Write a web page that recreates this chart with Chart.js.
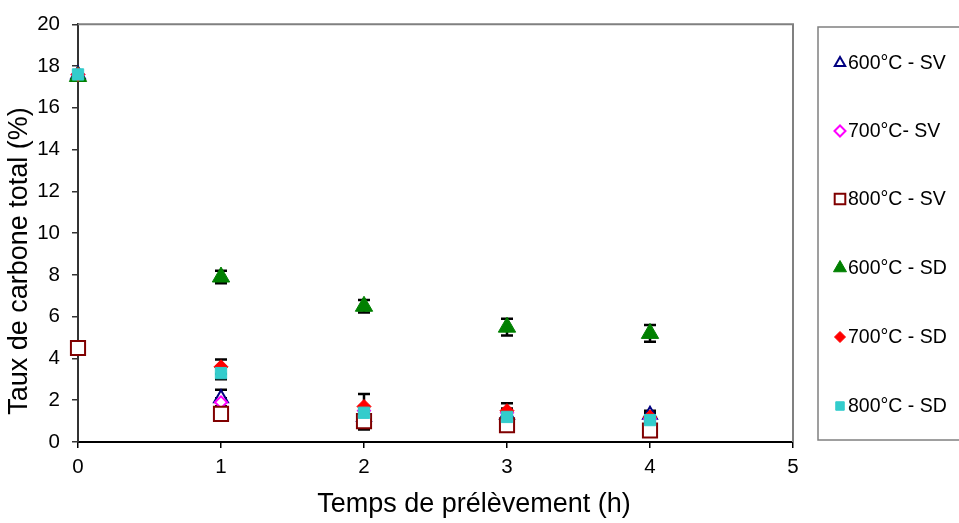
<!DOCTYPE html>
<html>
<head>
<meta charset="utf-8">
<script src="https://cdn.jsdelivr.net/npm/chart.js@4.4.1/dist/chart.umd.min.js"></script>
<style>
  html, body { margin: 0; padding: 0; background: #ffffff; }
  #wrap { width: 959px; height: 523px; position: relative; }
</style>
</head>
<body>
<div id="wrap"><canvas id="c" width="959" height="523"></canvas></div>
<script>
// ---- Data ----
const hours = [0, 1, 2, 3, 4];
const seriesNames = ["600°C - SV", "700°C- SV", "800°C - SV", "600°C - SD", "700°C - SD", "800°C - SD"];
const sv600 = [17.6, 2.1, 1.2, 1.3, 1.3];
const sv700 = [17.6, 1.9, 1.5, 1.4, 1.1];
const sv800 = [4.5, 1.35, 1.0, 0.8, 0.55];
const sd600 = [17.5, 7.9, 6.5, 5.5, 5.2];
const sd700 = [17.6, 3.6, 1.7, 1.5, 1.2];
const sd800 = [17.6, 3.3, 1.4, 1.2, 1.05];
// error bar half-widths
const err600sv = [0, 0.4, 0.2, 0.2, 0.2];
const err700sv = [0, 0.2, 0.2, 0.2, 0.1];
const err800sv = [0, 0.2, 0.4, 0.2, 0.1];
const err600sd = [0, 0.3, 0.3, 0.4, 0.4];
const err700sd = [0, 0.35, 0.6, 0.35, 0.2];
const err800sd = [0, 0.3, 0.2, 0.2, 0.1];
const xTicks = [0, 1, 2, 3, 4, 5];
const yTicks = [0, 2, 4, 6, 8, 10, 12, 14, 16, 18, 20];
const xTitle = 'Temps de prélèvement (h)';
const yTitle = 'Taux de carbone total (%)';

const values = [sv600, sv700, sv800, sd600, sd700, sd800];
const errors = [err600sv, err700sv, err800sv, err600sd, err700sd, err800sd];

const styles = [
  { pointStyle: 'triangle', radius: 8, border: '#000080', fill: '#ffffff', bw: 2 },
  { pointStyle: 'rectRot', radius: 6, border: '#FF00FF', fill: '#ffffff', bw: 2 },
  { pointStyle: 'rect', radius: 10, border: '#800000', fill: '#ffffff', bw: 2 },
  { pointStyle: 'triangle', radius: 10, border: '#008000', fill: '#008000', bw: 1 },
  { pointStyle: 'rectRot', radius: 7, border: '#FF0000', fill: '#FF0000', bw: 1 },
  { pointStyle: 'rect', radius: 8, border: '#33CCCC', fill: '#33CCCC', bw: 1 }
];

const FONT = "'Liberation Sans', Arial, sans-serif";

const datasets = values.map((vals, i) => ({
  label: seriesNames[i],
  data: hours.map((h, j) => ({ x: h, y: vals[j] })),
  showLine: false,
  clip: false,
  pointStyle: styles[i].pointStyle,
  pointRadius: styles[i].radius,
  pointHoverRadius: styles[i].radius,
  borderColor: styles[i].border,
  backgroundColor: styles[i].fill,
  pointBorderWidth: styles[i].bw,
  borderWidth: styles[i].bw,
  order: 10 - i,
  errs: errors[i]
}));

const framePlugin = {
  id: 'frameAndErrors',
  beforeDatasetsDraw(chart) {
    const { ctx, chartArea: a, scales } = chart;
    ctx.save();
    ctx.strokeStyle = '#808080';
    ctx.lineWidth = 2;
    ctx.beginPath();
    ctx.moveTo(a.left, a.top);
    ctx.lineTo(a.right, a.top);
    ctx.lineTo(a.right, a.bottom);
    ctx.stroke();
    ctx.strokeStyle = '#000000';
    ctx.lineWidth = 2.5;
    chart.data.datasets.forEach((ds) => {
      ds.data.forEach((p, j) => {
        const e = ds.errs[j];
        if (!e) return;
        const x = scales.x.getPixelForValue(p.x);
        const yt = scales.y.getPixelForValue(p.y + e);
        const yb = scales.y.getPixelForValue(p.y - e);
        ctx.beginPath();
        ctx.moveTo(x, yt); ctx.lineTo(x, yb);
        ctx.moveTo(x - 6, yt); ctx.lineTo(x + 6, yt);
        ctx.moveTo(x - 6, yb); ctx.lineTo(x + 6, yb);
        ctx.stroke();
      });
    });
    ctx.restore();
  },
  afterDraw(chart) {
    const { ctx } = chart;
    ctx.save();
    // axis titles
    ctx.fillStyle = '#000';
    ctx.font = '27px ' + FONT;
    ctx.textAlign = 'center';
    ctx.textBaseline = 'middle';
    ctx.fillText(xTitle, 474, 505);
    ctx.save();
    ctx.translate(20, 261);
    ctx.rotate(-Math.PI / 2);
    ctx.fillText(yTitle, 0, 0);
    ctx.restore();
    // legend box
    const boxL = 818, boxT = 27, boxB = 440;
    ctx.strokeStyle = '#808080';
    ctx.lineWidth = 1.5;
    ctx.strokeRect(boxL, boxT, 200, boxB - boxT);
    const rowY = [63, 131, 199, 268, 337, 406];
    ctx.font = '19.5px ' + FONT;
    ctx.textBaseline = 'middle';
    ctx.textAlign = 'left';
    chart.data.datasets.forEach((ds, i) => {
      const st = styles[i];
      ctx.strokeStyle = st.border;
      ctx.fillStyle = st.fill;
      ctx.lineWidth = st.bw;
      Chart.helpers.drawPoint(ctx, {
        pointStyle: st.pointStyle,
        radius: Math.max(5.5, st.radius * 0.75),
        rotation: 0,
        borderWidth: st.bw
      }, 840, rowY[i]);
      ctx.fillStyle = '#000';
      ctx.fillText(ds.label, 848, rowY[i] + 1);
    });
    ctx.restore();
  }
};

new Chart(document.getElementById('c'), {
  type: 'scatter',
  data: { datasets },
  options: {
    responsive: false,
    animation: false,
    devicePixelRatio: 1,
    layout: { padding: { top: 22, right: 166, left: 0, bottom: 0 } },
    plugins: {
      legend: { display: false },
      tooltip: { enabled: false }
    },
    scales: {
      x: {
        type: 'linear',
        min: 0, max: 5,
        afterFit(s) { s.height = 81; },
        afterBuildTicks(s) { s.ticks = xTicks.map(v => ({ value: v })); },
        ticks: { font: { family: FONT, size: 20.5 }, color: '#000', padding: 7 },
        grid: { display: true, drawOnChartArea: false, drawTicks: true, tickLength: 6, color: '#000', lineWidth: 1.5 },
        border: { display: true, color: '#000', width: 2 },
        title: { display: false, text: xTitle }
      },
      y: {
        type: 'linear',
        min: 0, max: 20,
        afterFit(s) { s.width = 78; },
        afterBuildTicks(s) { s.ticks = yTicks.map(v => ({ value: v })); },
        ticks: { font: { family: FONT, size: 20.5 }, color: '#000', padding: 12 },
        grid: { display: true, drawOnChartArea: false, drawTicks: true, tickLength: 6, color: '#333', lineWidth: 1.5 },
        border: { display: true, color: '#333', width: 2 },
        title: { display: false, text: yTitle }
      }
    }
  },
  plugins: [framePlugin]
});
</script>
</body>
</html>
